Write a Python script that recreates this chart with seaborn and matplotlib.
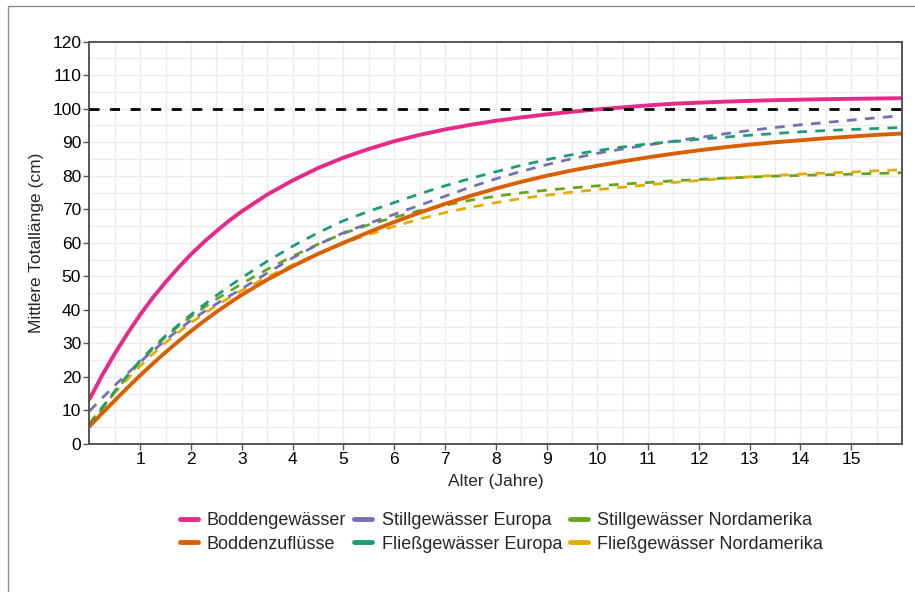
import numpy as np
import pandas as pd
import matplotlib.pyplot as plt
import seaborn as sns
from matplotlib.lines import Line2D
from matplotlib.patches import Rectangle

# === Données ===
alter = [0, 0.25, 0.5, 0.75, 1, 1.25, 1.5, 1.75, 2, 2.25, 2.5, 2.75, 3, 3.5, 4, 4.5, 5,
         5.5, 6, 6.5, 7, 7.5, 8, 8.5, 9, 9.5, 10, 10.5, 11, 11.5, 12, 12.5, 13, 13.5,
         14, 14.5, 15, 15.5, 16]

boddengewaesser = [13.4, 20.5, 27.0, 33.0, 38.6, 43.7, 48.3, 52.6, 56.6, 60.2, 63.5, 66.6,
                   69.4, 74.4, 78.6, 82.3, 85.4, 88.0, 90.3, 92.2, 93.8, 95.2, 96.4, 97.4,
                   98.3, 99.1, 99.8, 100.4, 101.0, 101.5, 101.8, 102.1, 102.35, 102.55,
                   102.7, 102.85, 102.95, 103.05, 103.15]
boddenzufluesse = [5.3, 9.2, 13.0, 16.8, 20.5, 24.0, 27.4, 30.6, 33.7, 36.6, 39.4, 42.0,
                   44.5, 49.0, 53.0, 56.7, 60.0, 63.2, 66.2, 69.0, 71.6, 74.0, 76.2, 78.2,
                   80.0, 81.6, 83.0, 84.3, 85.5, 86.6, 87.6, 88.5, 89.3, 90.0, 90.6, 91.2,
                   91.7, 92.2, 92.6]
still_europa = [9.8, 13.7, 17.5, 21.1, 24.5, 27.8, 31.0, 34.0, 36.9, 39.4, 41.8, 44.1,
                46.3, 51.0, 55.5, 59.5, 63.0, 65.8, 68.5, 71.2, 73.9, 76.6, 79.1, 81.3,
                83.3, 85.1, 86.7, 88.0, 89.2, 90.3, 91.4, 92.5, 93.5, 94.4, 95.2, 95.9,
                96.6, 97.3, 97.9]
fliess_europa = [5.8, 10.9, 15.8, 20.5, 25.0, 28.8, 32.3, 35.5, 38.6, 41.5, 44.3, 47.0,
                 49.6, 54.5, 59.0, 63.0, 66.6, 69.4, 72.0, 74.6, 77.0, 79.2, 81.2, 83.1,
                 84.8, 86.3, 87.5, 88.6, 89.5, 90.2, 90.9, 91.5, 92.1, 92.6, 93.1, 93.5,
                 93.8, 94.1, 94.4]
still_nordamerika = [5.0, 10.4, 15.5, 20.2, 24.5, 28.4, 32.0, 35.1, 38.0, 40.7, 43.2, 45.5,
                     47.8, 52.1, 56.0, 59.6, 62.8, 65.4, 67.6, 69.6, 71.2, 72.7, 73.9, 74.9,
                     75.7, 76.4, 77.0, 77.5, 78.0, 78.5, 78.9, 79.3, 79.6, 79.9, 80.1, 80.3,
                     80.5, 80.7, 80.9]
fliess_nordamerika = [6.2, 10.9, 15.3, 19.4, 23.3, 26.9, 30.3, 33.3, 36.2, 38.8, 41.3, 43.6,
                      45.8, 49.8, 53.4, 56.8, 59.9, 62.5, 64.9, 67.1, 69.0, 70.6, 72.0, 73.2,
                      74.2, 75.1, 75.9, 76.6, 77.3, 78.0, 78.6, 79.2, 79.7, 80.1, 80.5, 80.8,
                      81.1, 81.5, 81.8]

gruppen = ["Boddengewässer", "Boddenzuflüsse", "Stillgewässer Europa",
           "Fließgewässer Europa", "Stillgewässer Nordamerika", "Fließgewässer Nordamerika"]
werte = [boddengewaesser, boddenzufluesse, still_europa, fliess_europa,
         still_nordamerika, fliess_nordamerika]
farben = ["#E7298A", "#D95F02", "#7570B3", "#1B9E77", "#66A61E", "#E6AB02"]
gestrichelt = [False, False, True, True, True, True]

df = pd.DataFrame({
    "Alter": np.tile(alter, len(gruppen)),
    "Laenge": np.concatenate(werte),
    "Gruppe": np.repeat(gruppen, len(alter)),
})

# === Graphique ===
sns.set_theme(style="whitegrid")
plt.rcParams["font.family"] = ["Liberation Sans", "DejaVu Sans"]

fig = plt.figure(figsize=(9.15, 5.92), dpi=100)
ax = fig.add_axes([0.0978, 0.25, 0.888, 0.6796])

# ordre de dessin : pointillés d'abord, traits pleins ensuite
ordre = [4, 5, 2, 3, 1, 0]
for i in ordre:
    sub = df[df["Gruppe"] == gruppen[i]]
    if gestrichelt[i]:
        sns.lineplot(data=sub, x="Alter", y="Laenge", color=farben[i], ax=ax,
                     linewidth=2.0, legend=False, linestyle=(0, (3.5, 3.0)))
    else:
        sns.lineplot(data=sub, x="Alter", y="Laenge", color=farben[i], ax=ax,
                     linewidth=2.8, legend=False)

ax.axhline(100, color="black", linewidth=2, linestyle=(0, (3.6, 3.8)), zorder=3)

ax.set_xlim(0, 16)
ax.set_ylim(0, 120)
ax.set_xticks(range(1, 16))
ax.set_xticks(np.arange(0.5, 16, 0.5), minor=True)
ax.set_yticks(range(0, 121, 10))
ax.set_yticks(range(5, 120, 10), minor=True)
ax.grid(which="both", color="#ebebeb", linewidth=1)
ax.set_axisbelow(True)

for s in ax.spines.values():
    s.set_color("#555555")
    s.set_linewidth(1.4)
ax.tick_params(axis="both", which="major", direction="out", length=4, width=1,
               color="#555555", labelsize=12.5, labelcolor="black", pad=2,
               bottom=True, left=True)
ax.tick_params(which="minor", length=0)

ax.set_xlabel("Alter (Jahre)", fontsize=12.5, labelpad=5)
ax.set_ylabel("Mittlere Totallänge (cm)", fontsize=12.5, labelpad=6)

handles = [Line2D([0], [0], color=c, linewidth=3.5) for c in farben]
fig.legend(handles, gruppen, loc="center", bbox_to_anchor=(0.548, 0.1005), ncol=3,
           frameon=False, fontsize=13, handlelength=1.0, handletextpad=0.5,
           columnspacing=0.45, labelspacing=0.35)

# cadre extérieur gris
fig.add_artist(Rectangle((8 / 915, -0.5), 2, 0.5 + 1 - 6 / 592, transform=fig.transFigure,
                         fill=False, edgecolor="#8c8c8c", linewidth=1))

fig.savefig("out.png", dpi=100)
